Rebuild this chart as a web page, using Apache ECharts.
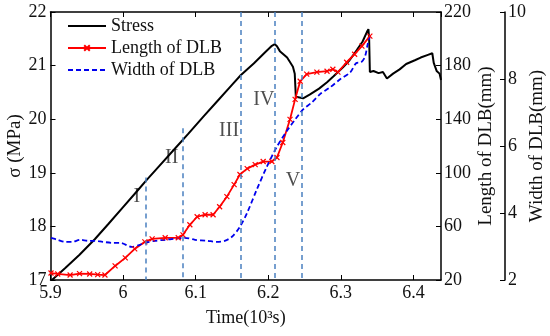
<!DOCTYPE html>
<html>
<head>
<meta charset="utf-8">
<script src="https://cdn.jsdelivr.net/npm/echarts@6/dist/echarts.min.js"></script>
<style>
html,body{margin:0;padding:0;background:#fff;}
#chart{width:550px;height:336px;}
</style>
</head>
<body>
<div id="chart"></div>
<script>
// ---- data ----
const xTicks = [5.9, 6, 6.1, 6.2, 6.3, 6.4];
const stressT = [5.902,5.92,5.94,5.961,5.98,6.00,6.02,6.032,6.05,6.07,6.09,6.11,6.13,6.15,6.162,6.18,6.195,6.205,6.209,6.212,6.216,6.226,6.234,6.2365,6.238,6.240,6.248,6.257,6.27,6.281,6.29,6.303,6.312,6.322,6.33,6.336,6.338,6.339,6.340,6.345,6.352,6.358,6.3635,6.372,6.381,6.39,6.402,6.41,6.42,6.426,6.428,6.432,6.436,6.438];
const stressV = [17.0,17.22,17.47,17.76,18.05,18.36,18.67,18.86,19.13,19.43,19.73,20.04,20.34,20.64,20.82,21.04,21.24,21.37,21.40,21.36,21.27,21.15,20.98,20.85,20.42,20.39,20.39,20.46,20.57,20.69,20.80,20.97,21.10,21.29,21.45,21.63,21.68,21.50,20.88,20.90,20.86,20.88,20.76,20.85,20.93,21.03,21.10,21.15,21.20,21.23,21.05,20.90,20.85,20.73];
const lengthT = [5.9007,5.91,5.927,5.94,5.954,5.965,5.975,5.989,6.003,6.016,6.030,6.040,6.058,6.076,6.0825,6.092,6.102,6.113,6.124,6.133,6.143,6.153,6.161,6.171,6.182,6.193,6.205,6.212,6.220,6.230,6.237,6.244,6.253,6.267,6.281,6.289,6.296,6.308,6.319,6.329,6.340];
const lengthV = [25.2,24.5,23.7,24.8,24.5,24.0,23.7,30.5,36.5,43.2,48.5,50.7,51.5,51.5,53.7,61.2,67.2,68.7,68.7,74.7,82.2,91.2,98.7,103.1,106.1,108.4,108.4,111.4,122.6,139.9,154.8,168.3,173.6,175.1,175.8,177.3,175.1,182.5,188.5,194.5,202.0];
const widthT = [5.9007,5.910,5.920,5.930,5.941,5.952,5.961,5.972,5.985,5.996,6.012,6.023,6.030,6.044,6.058,6.071,6.085,6.099,6.116,6.129,6.140,6.150,6.161,6.171,6.184,6.198,6.212,6.226,6.237,6.248,6.260,6.271,6.285,6.299,6.313,6.321,6.328,6.333,6.337,6.340];
const widthV = [3.26,3.20,3.14,3.14,3.20,3.17,3.17,3.14,3.11,3.11,2.99,3.05,3.11,3.17,3.20,3.23,3.26,3.20,3.17,3.14,3.17,3.29,3.59,4.01,4.69,5.38,5.98,6.46,6.79,7.09,7.30,7.54,7.75,7.99,8.20,8.47,8.50,8.65,9.04,9.28];
const phaseT = [6.0315, 6.0825, 6.162, 6.209, 6.246];
const phaseTop = [18.91, 19.83, 22, 22, 22];
const phaseNames = ['I', 'II', 'III', 'IV', 'V'];
const phaseLabelT = [6.019, 6.067, 6.146, 6.194, 6.234];
const phaseLabelV = [18.55, 19.28, 19.79, 20.37, 18.85];

const FONT = 'Liberation Serif';
const zip = (a, b) => a.map((v, i) => [v, b[i]]);

const chart = echarts.init(document.getElementById('chart'));
const tickStyle = {inside: true, length: 5, lineStyle: {color: '#000', width: 1}};
const lineStyleAx = {color: '#000', width: 1.5};
chart.setOption({
  animation: false,
  textStyle: {fontFamily: FONT, color: '#111'},
  grid: {left: 50.5, right: 109, top: 12, bottom: 56, containLabel: false, outerBoundsMode: 'none'},
  legend: {
    left: 62, top: 12, orient: 'vertical', itemWidth: 38, itemHeight: 7, itemGap: 4,
    textStyle: {fontFamily: FONT, fontSize: 18, color: '#111'},
    data: [
      {name: 'Stress', itemStyle: {opacity: 0}},
      {name: 'Length of DLB'},
      {name: 'Width of DLB', itemStyle: {opacity: 0}}
    ]
  },
  xAxis: [{
    type: 'value', min: 5.9, max: 6.438, interval: 0.1,
    name: 'Time(10³s)', nameLocation: 'middle', nameGap: 29,
    nameTextStyle: {fontFamily: FONT, fontSize: 18, color: '#111'},
    axisLine: {lineStyle: lineStyleAx}, axisTick: tickStyle,
    axisLabel: {fontFamily: FONT, fontSize: 18, color: '#111', margin: 4, showMaxLabel: false,
      formatter: v => String(+v.toFixed(1))},
    splitLine: {show: false}
  }, {
    type: 'value', min: 5.9, max: 6.438, interval: 0.1, position: 'top',
    axisLine: {lineStyle: lineStyleAx}, axisTick: tickStyle,
    axisLabel: {show: false}, splitLine: {show: false}
  }],
  yAxis: [{
    type: 'value', min: 17, max: 22, interval: 1, position: 'left',
    name: 'σ (MPa)', nameLocation: 'middle', nameGap: 26, nameRotate: 90, nameMoveOverlap: false,
    nameTextStyle: {fontFamily: FONT, fontSize: 19, color: '#111'},
    axisLine: {lineStyle: lineStyleAx}, axisTick: tickStyle,
    axisLabel: {fontFamily: FONT, fontSize: 18, color: '#111', margin: 4},
    splitLine: {show: false}
  }, {
    type: 'value', min: 20, max: 220, interval: 40, position: 'right',
    name: 'Length of DLB(mm)', nameLocation: 'middle', nameGap: 35.5, nameRotate: 90, nameMoveOverlap: false,
    nameTextStyle: {fontFamily: FONT, fontSize: 19, color: '#111'},
    axisLine: {show: true, lineStyle: lineStyleAx}, axisTick: {show: true, inside: true, length: 5, lineStyle: {color: '#000'}},
    axisLabel: {fontFamily: FONT, fontSize: 18, color: '#111', margin: 3},
    splitLine: {show: false}
  }, {
    type: 'value', min: 2, max: 10, interval: 2, position: 'right', offset: 64,
    name: 'Width of DLB(mm)', nameLocation: 'middle', nameGap: 22.5, nameRotate: 90, nameMoveOverlap: false,
    nameTextStyle: {fontFamily: FONT, fontSize: 19, color: '#111'},
    axisLine: {show: true, lineStyle: lineStyleAx}, axisTick: {show: true, inside: true, length: 5, lineStyle: {color: '#000'}},
    axisLabel: {fontFamily: FONT, fontSize: 18, color: '#111', margin: 3},
    splitLine: {show: false}
  }],
  series: [{
    name: 'Stress', type: 'line', xAxisIndex: 0, yAxisIndex: 0,
    data: zip(stressT, stressV), showSymbol: false, symbol: 'none',
    lineStyle: {color: '#000', width: 2}, itemStyle: {color: '#000'},
    markLine: {
      silent: true, symbol: 'none', label: {show: false},
      lineStyle: {color: '#4a80c0', type: [5, 4], width: 1.5},
      data: phaseT.map((t, i) => [{coord: [t, phaseTop[i]]}, {coord: [t, 17]}])
    }
  }, {
    name: 'Length of DLB', type: 'line', xAxisIndex: 0, yAxisIndex: 1,
    data: zip(lengthT, lengthV), showSymbol: true, showAllSymbol: true,
    symbol: 'path://M0,0L10,10M10,0L0,10', symbolSize: 5,
    lineStyle: {color: '#ff0000', width: 1.8},
    itemStyle: {color: '#ff0000', borderColor: '#ff0000', borderWidth: 1.2}
  }, {
    name: 'Width of DLB', type: 'line', xAxisIndex: 0, yAxisIndex: 2,
    data: zip(widthT, widthV), showSymbol: false, symbol: 'none', smooth: 0.3,
    lineStyle: {color: '#0000ee', width: 1.8, type: [5, 3]}, itemStyle: {color: '#0000ee'}
  }, {
    name: 'phases', type: 'scatter', xAxisIndex: 0, yAxisIndex: 0,
    symbolSize: 1, itemStyle: {color: 'rgba(0,0,0,0)'}, silent: true,
    data: phaseLabelT.map((t, i) => [t, phaseLabelV[i], phaseNames[i]]),
    label: {show: true, position: 'inside', formatter: p => p.data[2],
      fontFamily: FONT, fontSize: 20, color: '#222'}
  }]
});
</script>
</body>
</html>
